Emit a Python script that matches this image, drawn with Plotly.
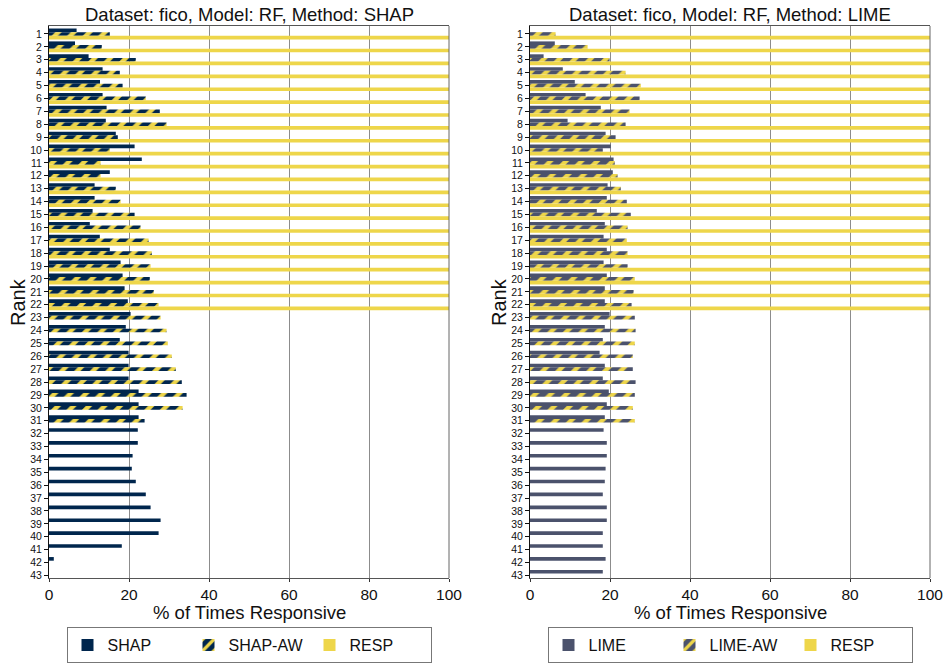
import plotly.graph_objects as go

# Rank positions (1 = most important feature)
ranks = list(range(1, 44))

# Percentage of times responsive per rank, SHAP panel
shap = [6.9, 6.5, 9.9, 13.4, 12.75, 13.4, 14.4, 14.2, 16.7, 21.4, 23.2, 15.2, 11.4,
        11.4, 10.9, 10.2, 12.7, 15.2, 17.9, 18.4, 18.9, 19.7, 20.4, 19.2, 17.7, 19.9,
        19.9, 19.9, 22.4, 22.4, 22.4, 22.2, 22.2, 20.9, 20.7, 21.7, 24.2, 25.4, 27.9,
        27.4, 18.2, 1.2, 0]
shap_aw = [15.2, 13.2, 21.7, 17.7, 18.4, 24.2, 27.7, 29.4, 17.2, 15.2, 12.9, 12.9, 16.7,
           17.9, 21.4, 22.9, 24.9, 25.7, 25.4, 25.2, 26.2, 27.4, 27.9, 29.4, 29.7, 30.7,
           31.7, 33.2, 34.4, 33.4, 23.9]

# Percentage of times responsive per rank, LIME panel
lime = [0, 6.2, 3.4, 8.2, 11.2, 13.9, 17.7, 9.4, 18.9, 20.2, 20.9, 20.7, 19.4, 19.2,
        16.7, 18.7, 18.4, 19.2, 18.4, 19.2, 18.7, 18.7, 19.9, 18.7, 18.2, 17.4, 18.7,
        18.2, 19.7, 19.2, 18.7, 18.4, 19.2, 19.2, 18.9, 18.7, 18.2, 19.2, 19.2, 18.2,
        18.2, 18.9, 18.2]
lime_aw = [6.4, 14.4, 19.9, 23.9, 27.7, 27.4, 24.9, 23.9, 21.4, 18.2, 21.2, 21.9, 22.7,
           24.2, 25.2, 24.4, 24.2, 24.4, 24.4, 26.2, 25.9, 25.4, 26.2, 26.4, 26.2, 25.7,
           25.7, 26.4, 26.2, 25.7, 26.2]

# Responsive baseline (shared by both panels)
resp = [100, 100, 100, 100, 100, 100, 100, 100, 100, 100, 100, 100, 100, 100, 100,
        100, 100, 100, 100, 100, 100, 100]

xticks = [0, 20, 40, 60, 80, 100]

NAVY = "#00264D"
SLATE = "#4B526C"
YELLOW = "#EED64A"
FONT = "Liberation Sans, Arial, sans-serif"

W, H = 947, 664


def px_x(p):
    return p / W


def px_y(p):
    return 1 - p / H


fig = go.Figure()


def add_panel(method, vals, aw_vals, color, xa, ya, legend):
    fig.add_trace(go.Bar(
        y=ranks[:len(vals)], x=vals, orientation="h", name=method,
        marker=dict(color=color, line=dict(width=0)),
        xaxis=xa, yaxis=ya, legend=legend))
    fig.add_trace(go.Bar(
        y=ranks[:len(aw_vals)], x=aw_vals, orientation="h", name=method + "-AW",
        marker=dict(color=color, line=dict(width=0),
                    pattern=dict(shape="/", fgcolor=YELLOW, bgcolor=color,
                                 size=11, solidity=0.4, fillmode="replace")),
        xaxis=xa, yaxis=ya, legend=legend))
    fig.add_trace(go.Bar(
        y=ranks[:len(resp)], x=resp, orientation="h", name="RESP",
        marker=dict(color=YELLOW, line=dict(width=0)),
        xaxis=xa, yaxis=ya, legend=legend))


add_panel("SHAP", shap, shap_aw, NAVY, "x", "y", "legend")
add_panel("LIME", lime, lime_aw, SLATE, "x2", "y2", "legend2")

left_dom = [px_x(49), px_x(449)]
right_dom = [px_x(530), px_x(930)]
y_dom = [px_y(578), px_y(26)]

xaxis_common = dict(
    range=[0, 100], tickvals=xticks, showgrid=True, gridcolor="#8c8c8c", gridwidth=1,
    showline=True, linecolor="#555555", linewidth=1, mirror=True,
    ticks="outside", ticklen=3, tickcolor="#333333", automargin=False,
    ticklabelstandoff=-1,
    tickfont=dict(family=FONT, size=15.5, color="#111111"), zeroline=False,
)
yaxis_common = dict(
    range=[43.2, 0.38], tickvals=ranks, showgrid=False,
    showline=True, linecolor="#111111", linewidth=1, mirror=False,
    ticks="outside", ticklen=4, tickcolor="#111111", automargin=False,
    tickfont=dict(family=FONT, size=10.5, color="#111111"), zeroline=False,
)

legend_common = dict(
    orientation="h", y=px_y(663), yanchor="bottom", bordercolor="#777777",
    borderwidth=1, bgcolor="white", font=dict(family=FONT, size=16),
    itemwidth=30, entrywidth=76, traceorder="normal",
)

fig.update_layout(
    width=W, height=H,
    margin=dict(l=0, r=0, t=0, b=0, autoexpand=False),
    paper_bgcolor="white", plot_bgcolor="white",
    barmode="group", bargap=0.15, bargroupgap=0,
    font=dict(family=FONT, color="#111111"),
    xaxis=dict(domain=left_dom, anchor="y", **xaxis_common),
    yaxis=dict(domain=y_dom, anchor="x", **yaxis_common),
    xaxis2=dict(domain=right_dom, anchor="y2", **xaxis_common),
    yaxis2=dict(domain=y_dom, anchor="x2", **yaxis_common),
    legend=dict(x=(left_dom[0] + left_dom[1]) / 2, xanchor="center", **legend_common),
    legend2=dict(x=(right_dom[0] + right_dom[1]) / 2, xanchor="center", **legend_common),
    showlegend=True,
)

# Right-hand frame edge of each panel
for xd in ("x domain", "x2 domain"):
    yd = "y domain" if xd == "x domain" else "y2 domain"
    fig.add_shape(type="line", xref=xd, yref=yd, x0=1, x1=1, y0=0, y1=1,
                  line=dict(color="#666666", width=1))

annotations = [
    dict(text="Dataset: fico, Model: RF, Method: SHAP", x=(left_dom[0] + left_dom[1]) / 2,
         y=px_y(14), font=dict(size=18.5)),
    dict(text="Dataset: fico, Model: RF, Method: LIME", x=(right_dom[0] + right_dom[1]) / 2,
         y=px_y(14), font=dict(size=18.5)),
    dict(text="% of Times Responsive", x=(left_dom[0] + left_dom[1]) / 2,
         y=px_y(612), font=dict(size=18.5)),
    dict(text="% of Times Responsive", x=(right_dom[0] + right_dom[1]) / 2,
         y=px_y(612), font=dict(size=18.5)),
    dict(text="Rank", x=px_x(18), y=(y_dom[0] + y_dom[1]) / 2, textangle=-90,
         font=dict(size=20)),
    dict(text="Rank", x=px_x(499), y=(y_dom[0] + y_dom[1]) / 2, textangle=-90,
         font=dict(size=20)),
]
for a in annotations:
    a.update(xref="paper", yref="paper", showarrow=False, xanchor="center", yanchor="middle")
    a["font"].update(family=FONT, color="#111111")
fig.update_layout(annotations=annotations)

fig.write_html("out.html")
